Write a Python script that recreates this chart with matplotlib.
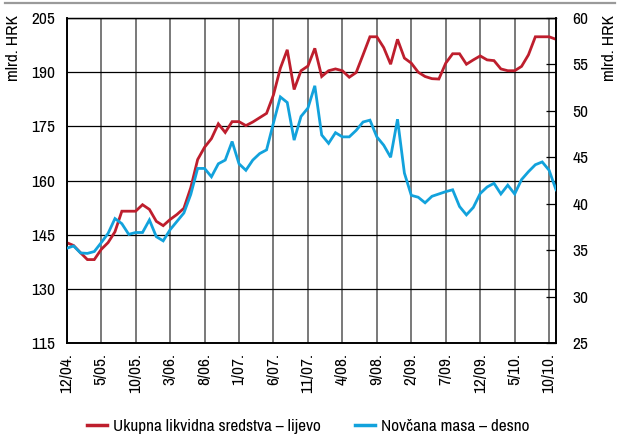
import matplotlib
matplotlib.use("Agg")
import matplotlib.pyplot as plt
from matplotlib import font_manager
from matplotlib.lines import Line2D

names = {f.name for f in font_manager.fontManager.ttflist}
FONT = "DejaVu Sans"
for cand in ["Nimbus Sans Narrow", "Liberation Sans Narrow", "Arial Narrow",
             "Archivo Narrow", "PT Sans Narrow", "Roboto Condensed", "Pragati Narrow"]:
    if cand in names:
        FONT = cand
        break
plt.rcParams["font.family"] = [FONT, "DejaVu Sans"]

# Monthly data, 12/2004 .. 11/2010
ukupna = [142.8, 142.0, 140.0, 138.1, 138.1, 140.9, 142.8, 145.8, 151.5, 151.5,
          151.5, 153.3, 152.0, 148.7, 147.5, 149.2, 150.6, 152.3, 158.0, 165.8,
          169.2, 171.6, 175.7, 173.3, 176.3, 176.3, 175.2, 176.2, 177.4, 178.6,
          183.7, 191.1, 196.2, 185.2, 190.4, 191.7, 196.6, 188.8, 190.4, 190.9,
          190.4, 188.6, 189.9, 194.8, 199.8, 199.8, 196.8, 192.2, 199.1, 193.9,
          192.5, 190.0, 188.8, 188.2, 188.1, 192.5, 195.1, 195.1, 192.2, 193.4,
          194.5, 193.4, 193.2, 190.9, 190.4, 190.4, 191.6, 194.8, 199.8, 199.8,
          199.8, 199.1]
novcana = [35.2, 35.45, 34.7, 34.65, 34.85, 35.8, 36.8, 38.4, 37.85, 36.7,
           36.9, 36.9, 38.25, 36.45, 36.0, 37.2, 38.1, 39.0, 41.0, 43.8,
           43.8, 42.9, 44.3, 44.7, 46.7, 44.3, 43.6, 44.7, 45.4, 45.8,
           48.7, 51.5, 50.9, 46.85, 49.4, 50.3, 52.7, 47.4, 46.5, 47.65,
           47.2, 47.2, 47.9, 48.8, 49.0, 47.2, 46.3, 45.0, 49.1, 43.3,
           40.9, 40.7, 40.1, 40.8, 41.05, 41.3, 41.5, 39.7, 38.8, 39.6,
           41.1, 41.8, 42.2, 41.05, 42.0, 41.05, 42.6, 43.45, 44.2, 44.5,
           43.6, 41.5]
tick_labels = ["12/04.", "5/05.", "10/05.", "3/06.", "8/06.", "1/07.", "6/07.",
               "11/07.", "4/08.", "9/08.", "2/09.", "7/09.", "12/09.", "5/10.", "10/10."]
left_ticks = [115, 130, 145, 160, 175, 190, 205]
right_ticks = [25, 30, 35, 40, 45, 50, 55, 60]
label_left = "Ukupna likvidna sredstva – lijevo"
label_right = "Novčana masa – desno"
unit = "mlrd. HRK"

RED = "#BE1E2D"
BLUE = "#12A2DC"
FS = 12.5
LFS = 12.4

fig = plt.figure(figsize=(6.2, 4.37), dpi=100)
ax = fig.add_axes([0.1076, 0.2151, 0.7892, 0.7437])
ax2 = ax.twinx()

x = list(range(len(ukupna)))
ax.plot(x, ukupna, color=RED, lw=2.0, solid_joinstyle="miter", zorder=3)
ax2.plot(x, novcana, color=BLUE, lw=2.0, solid_joinstyle="miter", zorder=3)

ax.set_xlim(0, len(ukupna) - 1)
ax.set_ylim(115, 205)
ax2.set_ylim(25, 60)
ax.set_yticks(left_ticks)
ax2.set_yticks(right_ticks)
xt = list(range(0, 71, 5))
ax.set_xticks(xt)
ax.set_xticklabels(tick_labels, rotation=90, fontsize=FS)

ax.grid(axis="y", color="black", lw=0.9)
ax.grid(axis="x", color="#6e6e6e", lw=1.3)
ax.set_axisbelow(True)

ax.tick_params(axis="x", length=0, pad=7)
ax.tick_params(axis="y", length=0, pad=8, labelsize=FS)
ax2.tick_params(axis="y", direction="in", length=7, width=0.9, color="black",
                pad=12, labelsize=FS)
ax2.tick_params(axis="x", length=0)

for a in (ax, ax2):
    for s in a.spines.values():
        s.set_color("black")
        s.set_linewidth(1.2)
    a.spines["top"].set_linewidth(0.9)

fig.text(0.022, 0.965, unit, rotation=90, ha="center", va="top", fontsize=FS)
fig.text(0.983, 0.965, unit, rotation=90, ha="center", va="top", fontsize=FS)

# top rule
fig.add_artist(Line2D([0.008, 0.992], [0.993, 0.993], color="#9a9a9a", lw=1.6,
                      transform=fig.transFigure))

handles = [Line2D([], [], color=RED, lw=2.5), Line2D([], [], color=BLUE, lw=2.5)]
fig.legend(handles, [label_left, label_right], loc="center left", ncol=2,
           bbox_to_anchor=(0.140, 0.024), frameon=False, fontsize=LFS,
           handlelength=1.16, handletextpad=0.35, columnspacing=1.98,
           borderaxespad=0, borderpad=0)

fig.savefig("out.png", dpi=100)
